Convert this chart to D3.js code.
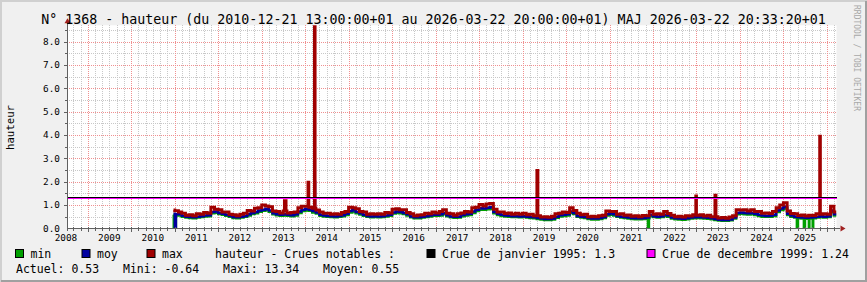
<!DOCTYPE html>
<html>
<head>
<meta charset="utf-8">
<script src="https://cdn.jsdelivr.net/npm/d3@7"></script>
<style>
body { margin: 0; background: #f0f0f0; }
svg { display: block; }
text { font-family: "DejaVu Sans Mono", monospace; }
</style>
</head>
<body>
<div id="chart"></div>
<script>
const W = 867, H = 282;
const plot = {left: 67, right: 836.5, top: 25.3, bottom: 228.3};

// ---- data ----
const title = "N° 1368 - hauteur (du 2010-12-21 13:00:00+01 au 2026-03-22 20:00:00+01) MAJ 2026-03-22 20:33:20+01";
const yTitle = "hauteur";
const startDate = "2010-12-21 13:00", endDate = "2026-03-22 20:00";
const viewStart = "2008-07-10 00:00";
const yearLabels = ["2008", "2009", "2010", "2011", "2012", "2013", "2014", "2015", "2016",
    "2017", "2018", "2019", "2020", "2021", "2022", "2023", "2024", "2025"];
const yTicks = [0, 1, 2, 3, 4, 5, 6, 7, 8];

// monthly values, Dec 2010 .. Mar 2026
const maxVals = [0.78,
    0.75, 0.7, 0.64, 0.56, 0.58, 0.54, 0.62, 0.6, 0.68, 0.64, 0.9, 0.82,
    0.8, 0.7, 0.7, 0.6, 0.58, 0.54, 0.6, 0.64, 0.76, 0.74, 0.86, 0.88,
    1.0, 0.96, 0.92, 0.74, 0.72, 0.66, 0.74, 0.66, 0.68, 0.7, 0.88, 0.94,
    0.95, 0.9, 0.86, 0.78, 0.7, 0.64, 0.64, 0.6, 0.62, 0.6, 0.68, 0.72,
    0.9, 0.88, 0.84, 0.72, 0.7, 0.6, 0.62, 0.6, 0.62, 0.6, 0.68, 0.66,
    0.82, 0.84, 0.8, 0.8, 0.68, 0.62, 0.54, 0.57, 0.58, 0.64, 0.62, 0.7,
    0.66, 0.72, 0.8, 0.64, 0.62, 0.56, 0.62, 0.66, 0.72, 0.7, 0.88, 0.9,
    1.02, 0.96, 1.04, 1.06, 0.82, 0.7, 0.7, 0.63, 0.66, 0.6, 0.64, 0.6,
    0.64, 0.58, 0.6, 0.54, 0.54, 0.48, 0.5, 0.47, 0.52, 0.62, 0.64, 0.7,
    0.68, 0.88, 0.76, 0.64, 0.58, 0.6, 0.5, 0.52, 0.49, 0.54, 0.56, 0.74,
    0.72, 0.72, 0.6, 0.62, 0.56, 0.57, 0.52, 0.54, 0.5, 0.55, 0.54, 0.72,
    0.6, 0.62, 0.6, 0.72, 0.63, 0.56, 0.5, 0.52, 0.48, 0.54, 0.53, 0.58,
    0.56, 0.58, 0.53, 0.56, 0.5, 0.5, 0.44, 0.46, 0.43, 0.48, 0.54, 0.8,
    0.78, 0.8, 0.74, 0.8, 0.72, 0.72, 0.64, 0.66, 0.63, 0.72, 0.88, 1.0,
    1.1, 0.74, 0.63, 0.62, 0.55, 0.57, 0.53, 0.56, 0.55, 0.62, 0.6, 0.62,
    0.6, 0.95, 0.7];
const moyVals = [0.62,
    0.6, 0.6, 0.54, 0.5, 0.48, 0.47, 0.5, 0.52, 0.55, 0.56, 0.7, 0.72,
    0.66, 0.62, 0.58, 0.54, 0.48, 0.47, 0.5, 0.53, 0.6, 0.66, 0.7, 0.76,
    0.8, 0.84, 0.76, 0.65, 0.6, 0.58, 0.6, 0.58, 0.56, 0.6, 0.72, 0.8,
    0.84, 0.8, 0.74, 0.68, 0.58, 0.55, 0.53, 0.52, 0.51, 0.53, 0.56, 0.62,
    0.74, 0.78, 0.7, 0.64, 0.58, 0.53, 0.51, 0.52, 0.51, 0.52, 0.55, 0.58,
    0.68, 0.72, 0.7, 0.66, 0.6, 0.51, 0.47, 0.47, 0.5, 0.52, 0.55, 0.58,
    0.58, 0.6, 0.66, 0.56, 0.51, 0.49, 0.5, 0.57, 0.6, 0.62, 0.72, 0.8,
    0.86, 0.85, 0.88, 0.9, 0.7, 0.62, 0.58, 0.55, 0.54, 0.52, 0.52, 0.51,
    0.52, 0.5, 0.48, 0.47, 0.44, 0.42, 0.4, 0.4, 0.42, 0.5, 0.56, 0.58,
    0.6, 0.72, 0.66, 0.53, 0.5, 0.48, 0.44, 0.42, 0.42, 0.44, 0.48, 0.6,
    0.63, 0.6, 0.53, 0.5, 0.48, 0.46, 0.44, 0.43, 0.43, 0.44, 0.46, 0.58,
    0.52, 0.5, 0.52, 0.58, 0.55, 0.46, 0.43, 0.42, 0.41, 0.43, 0.46, 0.47,
    0.48, 0.47, 0.46, 0.45, 0.43, 0.4, 0.37, 0.36, 0.36, 0.38, 0.46, 0.66,
    0.68, 0.66, 0.64, 0.66, 0.62, 0.58, 0.55, 0.53, 0.54, 0.58, 0.76, 0.85,
    0.92, 0.62, 0.55, 0.5, 0.47, 0.46, 0.45, 0.46, 0.47, 0.5, 0.52, 0.5,
    0.52, 0.76, 0.6];
const minVals = [0.58,
    0.55, 0.55, 0.5, 0.46, 0.44, 0.43, 0.46, 0.48, 0.51, 0.52, 0.64, 0.67,
    0.61, 0.58, 0.54, 0.5, 0.44, 0.43, 0.46, 0.49, 0.55, 0.61, 0.65, 0.71,
    0.75, 0.78, 0.71, 0.6, 0.56, 0.54, 0.55, 0.54, 0.52, 0.55, 0.66, 0.74,
    0.76, 0.75, 0.68, 0.63, 0.54, 0.51, 0.49, 0.48, 0.47, 0.49, 0.52, 0.57,
    0.68, 0.72, 0.65, 0.59, 0.54, 0.49, 0.47, 0.48, 0.47, 0.48, 0.51, 0.54,
    0.63, 0.66, 0.65, 0.61, 0.55, 0.47, 0.43, 0.43, 0.46, 0.48, 0.51, 0.54,
    0.54, 0.55, 0.6, 0.52, 0.47, 0.45, 0.46, 0.52, 0.55, 0.57, 0.66, 0.74,
    0.8, 0.79, 0.82, 0.83, 0.65, 0.57, 0.53, 0.51, 0.5, 0.48, 0.48, 0.47,
    0.48, 0.46, 0.44, 0.43, 0.4, 0.38, 0.36, 0.36, 0.38, 0.45, 0.51, 0.53,
    0.55, 0.66, 0.61, 0.49, 0.46, 0.44, 0.4, 0.38, 0.38, 0.4, 0.44, 0.55,
    0.58, 0.55, 0.49, 0.46, 0.44, 0.42, 0.4, 0.39, 0.39, 0.4, 0.42, 0.53,
    0.48, 0.46, 0.48, 0.53, 0.5, 0.42, 0.39, 0.38, 0.37, 0.39, 0.42, 0.43,
    0.44, 0.43, 0.42, 0.41, 0.39, 0.36, 0.33, 0.32, 0.32, 0.34, 0.42, 0.6,
    0.62, 0.6, 0.59, 0.6, 0.57, 0.53, 0.5, 0.49, 0.5, 0.53, 0.7, 0.78,
    0.85, 0.57, 0.5, 0.46, 0.43, 0.42, 0.41, 0.42, 0.43, 0.46, 0.47, 0.46,
    0.48, 0.7, 0.55];

// short events [from, to, value]
const maxPeaks = [
    ["2013-07-11", "2013-07-24", 1.18],
    ["2014-01-25", "2014-01-31", 1.97],
    ["2014-03-20", "2014-03-25", 13.34],
    ["2019-05-02", "2019-05-10", 2.48],
    ["2022-12-27", "2023-01-01", 1.38],
    ["2023-06-06", "2023-06-14", 1.42],
    ["2025-11-02", "2025-11-07", 3.95]];
const moyPeaks = [
    ["2011-01-02", "2011-01-11", -0.2],
    ["2014-03-20", "2014-03-25", 2.0]];
const minDips = [
    ["2010-12-24", "2011-01-11", -0.64],
    ["2021-11-20", "2021-11-28", -0.3],
    ["2025-04-24", "2025-05-03", -0.2],
    ["2025-06-22", "2025-07-01", -0.25],
    ["2025-08-03", "2025-08-07", -0.1],
    ["2025-09-04", "2025-09-08", -0.15]];

const crues = [["Crue de janvier 1995", 1.3], ["Crue de decembre 1999", 1.24]];
const stats = [["Actuel", "0.53"], ["Mini", "-0.64"], ["Maxi", "13.34"], ["Moyen", "0.55"]];
const seriesNames = ["min", "moy", "max"];
const crueHeader = "hauteur - Crues notables :";

// ---- styles ----
const seriesColors = ["#00a000", "#0000a0", "#a00000"];
const seriesWidths = [2.5, 2.5, 3];
const crueColors = ["#000000", "#ff00ff"];

const parse = d3.timeParse("%Y-%m-%d %H:%M");
const parseDay = d3.timeParse("%Y-%m-%d");
const t0 = parse(startDate), t1 = parse(endDate);
const months = d3.timeMonth.range(d3.timeMonth.floor(t0), t1);

const x = d3.scaleTime().domain([parse(viewStart), t1]).range([plot.left, plot.right]);
const y = d3.scaleLinear().domain([0, 8.7]).range([plot.bottom, plot.top]);

function buildSeries(monthly, events) {
    const ev = events.map(e => ({a: parseDay(e[0]), b: parseDay(e[1]), v: e[2]}));
    let bps = [t0, ...months.filter(m => m > t0), t1];
    ev.forEach(e => bps.push(e.a, e.b));
    bps = bps.sort((a, b) => a - b).filter((d, i, arr) => i == 0 || +d !== +arr[i - 1]);
    const pts = [];
    for (let i = 0; i < bps.length - 1; i++) {
        const mid = new Date((+bps[i] + +bps[i + 1]) / 2);
        const e = ev.find(e => mid >= e.a && mid < e.b);
        const v = e ? e.v : monthly[d3.timeMonth.count(months[0], mid)];
        pts.push({t: bps[i], v: v});
    }
    pts.push({t: t1, v: pts[pts.length - 1].v});
    return pts;
}

const series = [
    buildSeries(minVals, minDips),
    buildSeries(moyVals, moyPeaks),
    buildSeries(maxVals, maxPeaks)];

const svg = d3.select("#chart").append("svg")
    .attr("width", W).attr("height", H);

// frame
svg.append("rect").attr("width", W).attr("height", H).attr("fill", "#f0f0f0");
svg.append("path").attr("d", `M1,${H} V1 H${W}`).attr("fill", "none")
    .attr("stroke", "#d0d0d0").attr("stroke-width", 2);
svg.append("path").attr("d", `M1,${H - 1} H${W - 1} V1`).attr("fill", "none")
    .attr("stroke", "#a0a0a0").attr("stroke-width", 2);

svg.append("rect")
    .attr("x", plot.left).attr("y", plot.top)
    .attr("width", plot.right - plot.left).attr("height", plot.bottom - plot.top)
    .attr("fill", "#ffffff");

const crisp = v => Math.round(v) + 0.5;

// grid
const grid = svg.append("g").attr("stroke-dasharray", "1,1").attr("shape-rendering", "crispEdges");
const minorX = d3.timeMonth.every(2).range(x.domain()[0], t1).filter(d => d.getMonth() !== 0);
const majorX = d3.timeYear.range(x.domain()[0], t1);
const minorY = d3.range(0.5, 8.7, 1);
const majorY = yTicks.filter(v => v > 0);

grid.selectAll(".mx").data(minorX).enter().append("line")
    .attr("x1", d => crisp(x(d))).attr("x2", d => crisp(x(d)))
    .attr("y1", plot.top).attr("y2", plot.bottom)
    .attr("stroke", "#c8c8c8");
grid.selectAll(".my").data(minorY).enter().append("line")
    .attr("x1", plot.left).attr("x2", plot.right)
    .attr("y1", d => crisp(y(d))).attr("y2", d => crisp(y(d)))
    .attr("stroke", "#c8c8c8");
grid.selectAll(".Mx").data(majorX).enter().append("line")
    .attr("x1", d => crisp(x(d))).attr("x2", d => crisp(x(d)))
    .attr("y1", plot.top).attr("y2", plot.bottom)
    .attr("stroke", "#f09090");
grid.selectAll(".My").data(majorY).enter().append("line")
    .attr("x1", plot.left).attr("x2", plot.right)
    .attr("y1", d => crisp(y(d))).attr("y2", d => crisp(y(d)))
    .attr("stroke", "#f09090");

// series
svg.append("clipPath").attr("id", "clip").append("rect")
    .attr("x", plot.left).attr("y", plot.top)
    .attr("width", plot.right - plot.left).attr("height", plot.bottom - plot.top);

const line = d3.line().x(d => x(d.t)).y(d => y(d.v)).curve(d3.curveStepAfter);
const lines = svg.append("g").attr("clip-path", "url(#clip)");
series.forEach((s, i) => {
    lines.append("path")
        .datum(s)
        .attr("d", line)
        .attr("fill", "none")
        .attr("stroke", seriesColors[i])
        .attr("stroke-width", seriesWidths[i]);
});

// notable floods, snapped to pixel rows like rrdtool does
const hr = svg.append("g").attr("shape-rendering", "crispEdges");
crues.forEach((c, i) => {
    const py = Math.round(y(c[1])) - 0.5;
    hr.append("line")
        .attr("x1", plot.left).attr("x2", plot.right)
        .attr("y1", py).attr("y2", py)
        .attr("stroke", crueColors[i]).attr("stroke-width", i == 0 ? 2 : 1);
});

// axes
const axis = svg.append("g").attr("stroke", "#606060").attr("shape-rendering", "crispEdges");
axis.append("line").attr("x1", plot.left).attr("x2", plot.right + 3)
    .attr("y1", crisp(plot.bottom)).attr("y2", crisp(plot.bottom));
axis.append("line").attr("x1", crisp(plot.left)).attr("x2", crisp(plot.left))
    .attr("y1", plot.bottom + 3).attr("y2", plot.top - 2);
axis.selectAll(".tx").data(minorX.concat(majorX)).enter().append("line")
    .attr("x1", d => crisp(x(d))).attr("x2", d => crisp(x(d)))
    .attr("y1", plot.bottom - 1).attr("y2", d => plot.bottom + (d.getMonth() === 0 ? 4 : 3));
axis.selectAll(".ty").data(minorY.concat(majorY)).enter().append("line")
    .attr("y1", d => crisp(y(d))).attr("y2", d => crisp(y(d)))
    .attr("x1", d => plot.left - (d % 1 === 0 ? 3 : 2)).attr("x2", plot.left + 1);

const ax = crisp(plot.right + 3), ay = crisp(plot.bottom);
svg.append("path").attr("d", `M${ax},${ay - 3} L${ax + 5},${ay} L${ax},${ay + 3} Z`).attr("fill", "#a02020");
const bx = crisp(plot.left), by = plot.top - 2;
svg.append("path").attr("d", `M${bx - 3},${by} L${bx},${by - 5} L${bx + 3},${by} Z`).attr("fill", "#a02020");

// tick labels
svg.append("g").selectAll("text").data(yearLabels).enter().append("text")
    .attr("x", d => x(new Date(+d, 6, 1)))
    .attr("y", 241)
    .attr("text-anchor", "middle")
    .attr("font-size", "9.4px")
    .text(d => d);
svg.append("g").selectAll("text").data(yTicks).enter().append("text")
    .attr("x", 60)
    .attr("y", d => y(d) + 3.4)
    .attr("text-anchor", "end")
    .attr("font-size", "9.4px")
    .text(d => d.toFixed(1));

// titles
svg.append("text").attr("x", W / 2).attr("y", 24).attr("text-anchor", "middle")
    .attr("font-size", "13.3px").text(title);
svg.append("text").attr("transform", "translate(14,127.5) rotate(-90)")
    .attr("text-anchor", "middle").attr("font-size", "10.7px").text(yTitle);
svg.append("text").attr("transform", "translate(854,5) rotate(90)")
    .attr("font-size", "8px").attr("fill", "#a8a8a8").text("RRDTOOL / TOBI OETIKER");

// legend
const legendFont = "11.5px";
const row1 = 257.5, row2 = 272.5;
const boxX = [15.5, 82, 147, 427, 647];
const entries = seriesNames.map((n, i) => [n, seriesColors[i]])
    .concat(crues.map((c, i) => [c[0] + ": " + c[1], crueColors[i]]));
entries.forEach((e, i) => {
    svg.append("rect").attr("x", boxX[i]).attr("y", row1 - 8).attr("width", 8).attr("height", 8)
        .attr("fill", e[1]).attr("stroke", "#000").attr("stroke-width", 1);
    svg.append("text").attr("x", boxX[i] + 15).attr("y", row1)
        .attr("font-size", legendFont).text(e[0]);
});
svg.append("text").attr("x", 215).attr("y", row1).attr("font-size", legendFont).text(crueHeader);
const statX = [16, 123, 223, 323];
stats.forEach((s, i) => {
    svg.append("text").attr("x", statX[i]).attr("y", row2)
        .attr("font-size", legendFont).text(s[0] + ": " + s[1]);
});
</script>
</body>
</html>
